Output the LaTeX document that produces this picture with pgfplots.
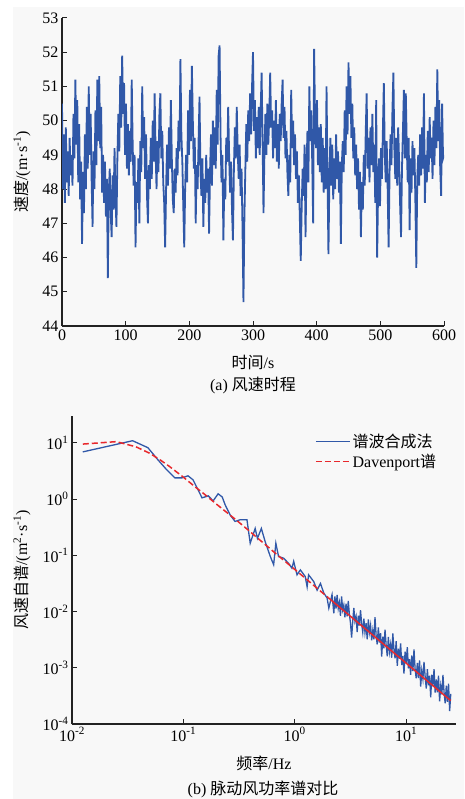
\documentclass[border=0pt]{standalone}
\usepackage{fontspec}
\setmainfont{Liberation Serif}
\newfontfamily\cjk{Noto Sans CJK SC}
\usepackage{pgfplots}
\pgfplotsset{compat=1.18}
\definecolor{bg}{HTML}{F8F8F8}
\definecolor{LineBlue}{HTML}{3058A8}
\definecolor{DavRed}{HTML}{E8282C}
\definecolor{AxisGray}{HTML}{222222}
\newcommand\lblfont{\fontsize{16}{19}\selectfont}
\pgfplotsset{
  panel/.style={
    scale only axis,
    axis lines=left,
    axis line style={-,AxisGray,line width=1.2pt},
    tick align=inside,
    major tick length=5pt,
    tick style={AxisGray,line width=1pt},
    tick label style={font=\fontsize{16}{18}\selectfont},
    /pgf/number format/assume math mode=true,
  },
}
\begin{document}
\begin{tikzpicture}
\useasboundingbox (0pt,0pt) rectangle (464pt,799pt);
\fill[bg] (13pt,0pt) rectangle (464pt,792pt);

% (a) wind speed time history
\begin{axis}[panel,
  at={(62pt,473pt)}, anchor=south west, width=382pt, height=308pt,
  xmin=0, xmax=600, ymin=44, ymax=53,
  xtick={0,100,...,600}, ytick={44,45,...,53},
  xlabel={{\cjk 时间}/s},
  ylabel={{\cjk 速度}/(m·s\textsuperscript{-1})},
  every axis x label/.style={at={(axis description cs:0.5,-0.12)},anchor=center,font=\lblfont},
  every axis y label/.style={at={(axis description cs:-0.105,0.5)},anchor=center,rotate=90,font=\lblfont},
]
\addplot[LineBlue, line width=1.8pt] table[row sep=\\] {
t v\\
0 50.5\\ 1.5 48.0\\ 3 49.6\\ 4.5 47.6\\ 6 49.8\\ 7.5 48.2\\ 9 49.1\\ 10.5 47.8\\ 12 49.5\\ 13.5 48.4\\
15 49.0\\ 16.5 48.1\\ 18 50.2\\ 19.5 48.9\\ 21 51.2\\ 22.5 49.3\\ 24 50.6\\ 25.5 48.2\\ 27 49.9\\ 28.5 47.7\\
30 48.8\\ 31.5 46.4\\ 33 48.5\\ 34.5 47.3\\ 36 49.6\\ 37.5 48.0\\ 39 50.4\\ 40.5 48.6\\ 42 51.0\\ 43.5 49.0\\
45 50.2\\ 46.5 48.3\\ 48 46.9\\ 49.5 49.1\\ 51 48.0\\ 52.5 50.3\\ 54 48.7\\ 55.5 51.2\\ 57 49.4\\ 58.5 51.3\\
60 49.2\\ 61.5 50.4\\ 63 47.9\\ 64.5 49.0\\ 66 47.6\\ 67.5 48.8\\ 69 47.2\\ 70.5 48.3\\ 72 45.4\\ 73.5 47.9\\
75 48.6\\ 76.5 47.3\\ 78 46.6\\ 79.5 48.4\\ 81 47.4\\ 82.5 49.2\\ 84 47.8\\ 85.5 46.9\\ 87 48.9\\ 88.5 50.2\\
90 49.1\\ 91.5 51.3\\ 93 49.8\\ 94.5 51.9\\ 96 50.2\\ 97.5 51.1\\ 99 49.0\\ 100.5 50.5\\ 102 48.6\\ 103.5 49.9\\
105 48.4\\ 106.5 49.7\\ 108 48.8\\ 109.5 51.2\\ 111 49.3\\ 112.5 48.1\\ 114 49.0\\ 115.5 46.3\\ 117 48.2\\ 118.5 47.6\\
120 48.9\\ 121.5 47.0\\ 123 49.4\\ 124.5 48.5\\ 126 51.0\\ 127.5 49.2\\ 129 50.1\\ 130.5 48.3\\ 132 49.6\\ 133.5 47.8\\
135 47.0\\ 136.5 48.7\\ 138 48.0\\ 139.5 49.5\\ 141 48.3\\ 142.5 50.0\\ 144 48.8\\ 145.5 50.8\\ 147 49.1\\ 148.5 48.0\\
150 49.4\\ 151.5 48.5\\ 153 50.2\\ 154.5 50.8\\ 156 48.9\\ 157.5 49.7\\ 159 48.2\\ 160.5 47.6\\ 162 46.3\\ 163.5 48.0\\
165 49.3\\ 166.5 48.1\\ 168 49.8\\ 169.5 48.6\\ 171 50.6\\ 172.5 48.9\\ 174 47.7\\ 175.5 47.3\\ 177 48.6\\ 178.5 47.9\\
180 49.2\\ 181.5 48.4\\ 183 50.0\\ 184.5 49.1\\ 186 51.8\\ 187.5 49.6\\ 189 48.8\\ 190.5 47.5\\ 192 46.3\\ 193.5 48.1\\
195 49.0\\ 196.5 48.2\\ 198 50.3\\ 199.5 49.0\\ 201 50.9\\ 202.5 49.4\\ 204 51.6\\ 205.5 50.0\\ 207 48.6\\ 208.5 49.5\\
210 47.0\\ 211.5 48.7\\ 213 48.0\\ 214.5 49.4\\ 216 50.7\\ 217.5 48.5\\ 219 47.8\\ 220.5 48.9\\ 222 46.9\\ 223.5 48.3\\
225 47.6\\ 226.5 49.0\\ 228 47.9\\ 229.5 48.6\\ 231 46.7\\ 232.5 48.5\\ 234 49.6\\ 235.5 48.1\\ 237 50.0\\ 238.5 48.7\\
240 49.8\\ 241.5 48.6\\ 243 50.9\\ 244.5 49.3\\ 246 51.9\\ 247.5 52.2\\ 249 49.6\\ 250.5 48.2\\ 252 49.0\\ 253.5 46.5\\
255 48.3\\ 256.5 47.7\\ 258 49.5\\ 259.5 48.8\\ 261 50.4\\ 262.5 49.0\\ 264 47.9\\ 265.5 48.8\\ 267 47.4\\ 268.5 46.5\\
270 48.6\\ 271.5 49.8\\ 273 48.9\\ 274.5 50.4\\ 276 49.1\\ 277.5 48.3\\ 279 49.3\\ 280.5 47.8\\ 282 48.6\\ 283.5 46.9\\
285 44.7\\ 286.5 47.2\\ 288 48.6\\ 289.5 49.9\\ 291 48.8\\ 292.5 50.3\\ 294 49.4\\ 295.5 50.8\\ 297 49.6\\ 298.5 51.0\\
300 52.0\\ 301.5 49.7\\ 303 50.6\\ 304.5 48.9\\ 306 50.1\\ 307.5 49.2\\ 309 50.4\\ 310.5 49.0\\ 312 50.2\\ 313.5 51.4\\
315 49.5\\ 316.5 47.3\\ 318 49.1\\ 319.5 50.2\\ 321 49.0\\ 322.5 50.5\\ 324 49.3\\ 325.5 50.1\\ 327 51.4\\ 328.5 49.8\\
330 50.3\\ 331.5 48.9\\ 333 50.0\\ 334.5 49.2\\ 336 50.6\\ 337.5 48.8\\ 339 49.9\\ 340.5 48.6\\ 342 50.2\\ 343.5 49.4\\
345 50.5\\ 346.5 51.2\\ 348 49.5\\ 349.5 50.4\\ 351 48.9\\ 352.5 49.7\\ 354 48.5\\ 355.5 47.8\\ 357 49.0\\ 358.5 48.2\\
360 50.9\\ 361.5 49.2\\ 363 50.0\\ 364.5 48.7\\ 366 49.6\\ 367.5 48.3\\ 369 49.1\\ 370.5 47.6\\ 372 48.4\\ 373.5 47.2\\
375 45.9\\ 376.5 47.5\\ 378 48.6\\ 379.5 47.8\\ 381 49.3\\ 382.5 46.6\\ 384 48.5\\ 385.5 49.7\\ 387 48.2\\ 388.5 51.0\\
390 49.4\\ 391.5 50.3\\ 393 48.8\\ 394.5 47.0\\ 396 52.1\\ 397.5 50.0\\ 399 49.2\\ 400.5 50.6\\ 402 48.7\\ 403.5 49.8\\
405 48.5\\ 406.5 49.9\\ 408 48.2\\ 409.5 49.5\\ 411 47.9\\ 412.5 49.2\\ 414 48.0\\ 415.5 51.0\\ 417 48.4\\ 418.5 46.1\\
420 48.3\\ 421.5 49.5\\ 423 48.1\\ 424.5 49.3\\ 426 47.7\\ 427.5 48.9\\ 429 48.0\\ 430.5 49.6\\ 432 48.3\\ 433.5 49.1\\
435 47.9\\ 436.5 48.8\\ 438 46.4\\ 439.5 48.7\\ 441 49.4\\ 442.5 48.5\\ 444 50.3\\ 445.5 49.0\\ 447 51.0\\ 448.5 49.6\\
450 51.7\\ 451.5 50.2\\ 453 51.3\\ 454.5 49.5\\ 456 50.5\\ 457.5 48.9\\ 459 49.8\\ 460.5 48.4\\ 462 49.3\\ 463.5 48.0\\
465 48.9\\ 466.5 47.4\\ 468 48.5\\ 469.5 46.6\\ 471 48.2\\ 472.5 47.4\\ 474 49.0\\ 475.5 48.1\\ 477 49.6\\ 478.5 50.8\\
480 48.6\\ 481.5 49.5\\ 483 48.2\\ 484.5 49.8\\ 486 48.7\\ 487.5 50.2\\ 489 48.5\\ 490.5 49.3\\ 492 47.6\\ 493.5 50.6\\
495 46.0\\ 496.5 48.0\\ 498 48.9\\ 499.5 47.5\\ 501 49.2\\ 502.5 48.3\\ 504 49.7\\ 505.5 51.1\\ 507 49.0\\ 508.5 48.2\\
510 49.4\\ 511.5 48.0\\ 513 46.3\\ 514.5 48.5\\ 516 49.6\\ 517.5 48.7\\ 519 50.3\\ 520.5 51.4\\ 522 49.2\\ 523.5 48.3\\
525 49.5\\ 526.5 48.1\\ 528 49.8\\ 529.5 48.8\\ 531 47.6\\ 532.5 46.6\\ 534 48.6\\ 535.5 49.7\\ 537 50.9\\ 538.5 48.9\\
540 50.8\\ 541.5 49.3\\ 543 48.2\\ 544.5 49.5\\ 546 46.8\\ 547.5 48.9\\ 549 47.9\\ 550.5 49.4\\ 552 48.4\\ 553.5 49.2\\
555 47.7\\ 556.5 45.7\\ 558 48.3\\ 559.5 49.0\\ 561 48.1\\ 562.5 49.6\\ 564 48.4\\ 565.5 49.8\\ 567 48.6\\ 568.5 50.8\\
570 47.6\\ 571.5 49.0\\ 573 48.2\\ 574.5 49.7\\ 576 48.5\\ 577.5 50.1\\ 579 48.9\\ 580.5 49.5\\ 582 48.3\\ 583.5 50.0\\
585 48.7\\ 586.5 50.4\\ 588 49.2\\ 589.5 51.5\\ 591 49.4\\ 592.5 50.6\\ 594 48.6\\ 595.5 47.8\\ 597 50.5\\ 598.5 48.9\\
600 49.0\\
};
\end{axis}
\node[font=\lblfont] at (253pt,414pt) {(a) {\cjk 风速时程}};

% (b) fluctuating wind power spectrum comparison
\begin{axis}[panel,
  xmode=log, ymode=log,
  at={(72pt,75pt)}, anchor=south west, width=384pt, height=308pt,
  xmin=0.01, xmax=28, ymin=1e-4, ymax=30,
  xtick={0.01,0.1,1,10},
  xticklabels={10\textsuperscript{-2},10\textsuperscript{-1},10\textsuperscript{0},10\textsuperscript{1}},
  ytick={1e-4,1e-3,1e-2,1e-1,1,10},
  yticklabels={10\textsuperscript{-4},10\textsuperscript{-3},10\textsuperscript{-2},10\textsuperscript{-1},10\textsuperscript{0},10\textsuperscript{1}},
  xminorticks=false, yminorticks=false,
  xlabel={{\cjk 频率}/Hz},
  ylabel={{\cjk 风速自谱}/(m\textsuperscript{2}·s\textsuperscript{-1})},
  every axis x label/.style={at={(axis description cs:0.5,-0.127)},anchor=center,font=\lblfont},
  every axis y label/.style={at={(axis description cs:-0.13,0.5)},anchor=center,rotate=90,font=\lblfont},
  legend style={at={(0.625,0.955)}, anchor=north west, draw=none, fill=none,
    font=\lblfont, legend cell align=left, row sep=1pt},
  legend image code/.code={\draw[#1,line width=1.4pt] (0pt,0pt) -- (34pt,0pt);},
]
\addplot[LineBlue, line width=1.3pt] table[row sep=\\] {
f S\\
0.0125 6.9\\ 0.035 10.9\\ 0.048 8.2\\ 0.059 5.0\\ 0.071 3.3\\ 0.084 2.38\\ 0.097 2.38\\ 0.110 2.59\\
0.122 2.2\\ 0.147 1.05\\ 0.167 1.14\\ 0.185 0.93\\ 0.205 1.24\\ 0.223 1.09\\ 0.237 0.79\\ 0.263 0.52\\
0.291 0.40\\ 0.324 0.43\\ 0.372 0.43\\ 0.398 0.164\\ 0.441 0.30\\ 0.462 0.20\\ 0.501 0.30\\ 0.542 0.175\\
0.603 0.095\\ 0.646 0.068\\ 0.676 0.164\\ 0.715 0.095\\ 0.794 0.089\\ 0.879 0.072\\ 0.942 0.059\\ 0.977 0.078\\
1.047 0.045\\ 1.122 0.055\\ 1.24 0.042\\ 1.29 0.0275\\ 1.33 0.045\\ 1.48 0.034\\ 1.585 0.024\\ 1.70 0.0316\\
1.82 0.0214\\ 1.95 0.0174\\ 2.02 0.0115\\ 2.16 0.020\\ 2.24 0.0093\\
2.291 1.85e-2\\ 2.344 1.13e-2\\ 2.399 1.97e-2\\ 2.455 1.14e-2\\ 2.512 1.45e-2\\ 2.570 8.41e-3\\
2.630 1.85e-2\\ 2.692 1.07e-2\\ 2.754 1.30e-2\\ 2.818 7.91e-3\\ 2.884 1.38e-2\\ 2.951 8.22e-3\\
3.020 1.54e-2\\ 3.090 8.93e-3\\ 3.162 6.24e-3\\ 3.236 3.45e-3\\ 3.311 6.62e-3\\ 3.388 1.16e-2\\
3.467 6.73e-3\\ 3.548 8.15e-3\\ 3.631 4.32e-3\\ 3.715 8.47e-3\\ 3.802 5.64e-3\\ 3.890 1.06e-2\\
3.981 6.14e-3\\ 4.074 4.28e-3\\ 4.169 7.50e-3\\ 4.266 4.25e-3\\ 4.365 6.18e-3\\ 4.467 3.20e-3\\
4.571 7.21e-3\\ 4.677 4.28e-3\\ 4.786 5.69e-3\\ 4.898 3.08e-3\\ 5.012 4.58e-3\\ 5.129 3.20e-3\\
5.248 7.91e-3\\ 5.370 3.72e-3\\ 5.495 2.60e-3\\ 5.623 5.22e-3\\ 5.754 2.82e-3\\ 5.888 4.12e-3\\
6.026 1.58e-3\\ 6.166 3.56e-3\\ 6.310 2.21e-3\\ 6.457 4.76e-3\\ 6.607 2.52e-3\\ 6.761 1.60e-3\\
6.918 3.53e-3\\ 7.079 1.91e-3\\ 7.244 2.60e-3\\ 7.413 1.51e-3\\ 7.586 4.08e-3\\ 7.762 2.11e-3\\
7.943 1.47e-3\\ 8.128 2.96e-3\\ 8.318 1.08e-3\\ 8.511 2.18e-3\\ 8.710 1.45e-3\\ 8.913 2.72e-3\\
9.120 1.12e-3\\ 9.333 1.63e-3\\ 9.550 7.85e-4\\ 9.772 1.94e-3\\ 10.00 1.23e-3\\ 10.23 2.32e-3\\
10.47 9.73e-4\\ 10.72 1.42e-3\\ 10.96 7.50e-4\\ 11.22 1.65e-3\\ 11.48 8.73e-4\\ 11.75 2.11e-3\\
12.02 9.51e-4\\ 12.30 6.47e-4\\ 12.59 1.22e-3\\ 12.88 6.58e-4\\ 13.18 1.35e-3\\ 13.49 4.62e-4\\
13.80 8.87e-4\\ 14.13 6.32e-4\\ 14.45 1.27e-3\\ 14.79 7.05e-4\\ 15.14 4.28e-4\\ 15.49 9.44e-4\\
15.85 4.88e-4\\ 16.22 7.26e-4\\ 16.60 2.99e-4\\ 16.98 7.55e-4\\ 17.38 4.69e-4\\ 17.78 9.44e-4\\
18.20 3.61e-4\\ 18.62 6.18e-4\\ 19.05 3.67e-4\\ 19.50 7.21e-4\\ 19.95 2.52e-4\\ 20.42 4.73e-4\\
20.89 3.37e-4\\ 21.38 7.43e-4\\ 21.88 3.59e-4\\ 22.39 2.33e-4\\ 22.91 4.80e-4\\ 23.44 2.48e-4\\
23.99 5.22e-4\\ 24.55 1.70e-4\\ 25.12 3.43e-4\\
};
\addlegendentry{{\cjk 谱波合成法}}
\addplot[DavRed, line width=1.5pt, dash pattern=on 6pt off 3pt] table[row sep=\\] {
f S\\
0.0125 9.5\\ 0.025 10.5\\ 0.0375 8.5\\ 0.05 6.5\\ 0.0625 4.9\\ 0.075 3.8\\ 0.0875 3.0\\ 0.1 2.45\\
0.125 1.70\\ 0.15 1.28\\ 0.2 0.80\\ 0.25 0.56\\ 0.3 0.42\\ 0.4 0.26\\ 0.5 0.178\\ 0.7 0.101\\
1.0 0.056\\ 1.5 0.0285\\ 2.0 0.0176\\
};
\addlegendentry{Davenport{\cjk 谱}}
\addplot[DavRed, line width=1.5pt, forget plot] table[row sep=\\] {
f S\\
2.0 0.0176\\ 5.0 0.00383\\ 10 0.001206\\ 25.12 0.00026\\
};
\end{axis}
\node[font=\lblfont] at (263pt,10pt) {(b) {\cjk 脉动风功率谱对比}};
\end{tikzpicture}
\end{document}
